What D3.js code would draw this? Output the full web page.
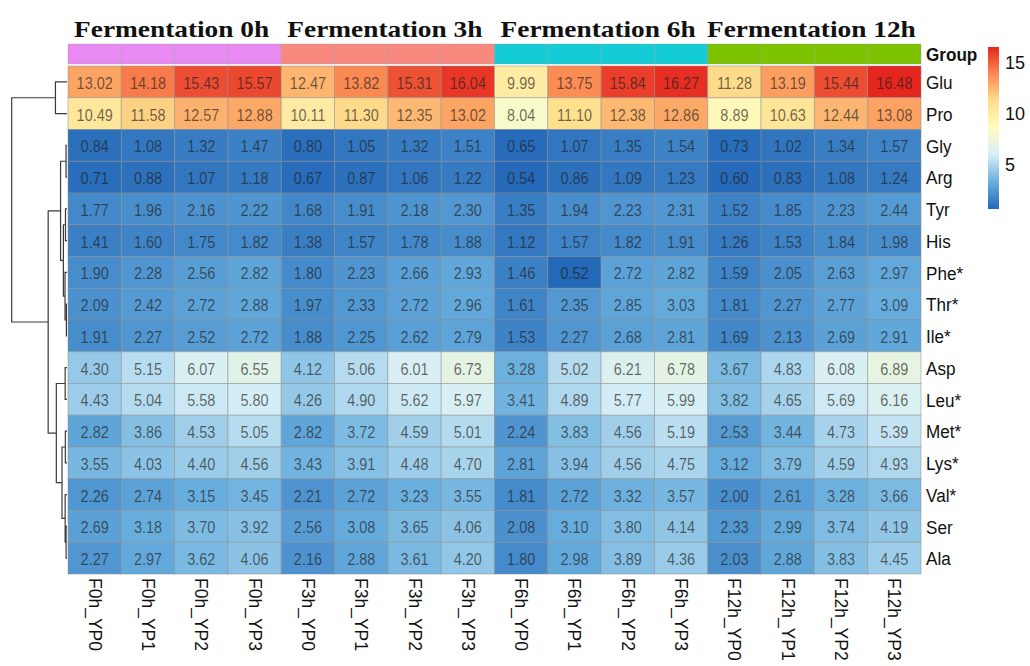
<!DOCTYPE html>
<html>
<head>
<meta charset="utf-8">
<script src="https://cdn.jsdelivr.net/npm/d3@7/dist/d3.min.js"></script>
<style>
  html, body { margin: 0; padding: 0; background: #fff; }
  svg { display: block; }
</style>
</head>
<body>
<svg id="chart" width="1030" height="666"></svg>
<script>
// Free amino acid content per sample (rows = amino acids, columns = samples)
const samples = [
  "F0h_YP0", "F0h_YP1", "F0h_YP2", "F0h_YP3",
  "F3h_YP0", "F3h_YP1", "F3h_YP2", "F3h_YP3",
  "F6h_YP0", "F6h_YP1", "F6h_YP2", "F6h_YP3",
  "F12h_YP0", "F12h_YP1", "F12h_YP2", "F12h_YP3"
];
const groupTitles = ["Fermentation 0h", "Fermentation 3h", "Fermentation 6h", "Fermentation 12h"];
const sampleGroup = [0, 0, 0, 0, 1, 1, 1, 1, 2, 2, 2, 2, 3, 3, 3, 3];
const aminoAcids = ["Glu", "Pro", "Gly", "Arg", "Tyr", "His", "Phe*", "Thr*", "Ile*",
                    "Asp", "Leu*", "Met*", "Lys*", "Val*", "Ser", "Ala"];

const glu = [13.02, 14.18, 15.43, 15.57, 12.47, 13.82, 15.31, 16.04, 9.99, 13.75, 15.84, 16.27, 11.28, 13.19, 15.44, 16.48];
const pro = [10.49, 11.58, 12.57, 12.88, 10.11, 11.30, 12.35, 13.02, 8.04, 11.10, 12.38, 12.86, 8.89, 10.63, 12.44, 13.08];
const gly = [0.84, 1.08, 1.32, 1.47, 0.80, 1.05, 1.32, 1.51, 0.65, 1.07, 1.35, 1.54, 0.73, 1.02, 1.34, 1.57];
const arg = [0.71, 0.88, 1.07, 1.18, 0.67, 0.87, 1.06, 1.22, 0.54, 0.86, 1.09, 1.23, 0.60, 0.83, 1.08, 1.24];
const tyr = [1.77, 1.96, 2.16, 2.22, 1.68, 1.91, 2.18, 2.30, 1.35, 1.94, 2.23, 2.31, 1.52, 1.85, 2.23, 2.44];
const his = [1.41, 1.60, 1.75, 1.82, 1.38, 1.57, 1.78, 1.88, 1.12, 1.57, 1.82, 1.91, 1.26, 1.53, 1.84, 1.98];
const phe = [1.90, 2.28, 2.56, 2.82, 1.80, 2.23, 2.66, 2.93, 1.46, 0.52, 2.72, 2.82, 1.59, 2.05, 2.63, 2.97];
const thr = [2.09, 2.42, 2.72, 2.88, 1.97, 2.33, 2.72, 2.96, 1.61, 2.35, 2.85, 3.03, 1.81, 2.27, 2.77, 3.09];
const ile = [1.91, 2.27, 2.52, 2.72, 1.88, 2.25, 2.62, 2.79, 1.53, 2.27, 2.68, 2.81, 1.69, 2.13, 2.69, 2.91];
const asp = [4.30, 5.15, 6.07, 6.55, 4.12, 5.06, 6.01, 6.73, 3.28, 5.02, 6.21, 6.78, 3.67, 4.83, 6.08, 6.89];
const leu = [4.43, 5.04, 5.58, 5.80, 4.26, 4.90, 5.62, 5.97, 3.41, 4.89, 5.77, 5.99, 3.82, 4.65, 5.69, 6.16];
const met = [2.82, 3.86, 4.53, 5.05, 2.82, 3.72, 4.59, 5.01, 2.24, 3.83, 4.56, 5.19, 2.53, 3.44, 4.73, 5.39];
const lys = [3.55, 4.03, 4.40, 4.56, 3.43, 3.91, 4.48, 4.70, 2.81, 3.94, 4.56, 4.75, 3.12, 3.79, 4.59, 4.93];
const val = [2.26, 2.74, 3.15, 3.45, 2.21, 2.72, 3.23, 3.55, 1.81, 2.72, 3.32, 3.57, 2.00, 2.61, 3.28, 3.66];
const ser = [2.69, 3.18, 3.70, 3.92, 2.56, 3.08, 3.65, 4.06, 2.08, 3.10, 3.80, 4.14, 2.33, 2.99, 3.74, 4.19];
const ala = [2.27, 2.97, 3.62, 4.06, 2.16, 2.88, 3.61, 4.20, 1.80, 2.98, 3.89, 4.36, 2.03, 2.88, 3.83, 4.45];

const values = [glu, pro, gly, arg, tyr, his, phe, thr, ile, asp, leu, met, lys, val, ser, ala];

const legendTicks = [5, 10, 15];
const groupColors = ["#E98AF2", "#F9887F", "#14CCD6", "#7CC400"];
const paletteStops = ["#2468B8", "#68AEDD", "#D6EEF6", "#FFFCC0", "#FEDF8E", "#FB8A52", "#E4261E"];

// ---- layout ----
const svg = d3.select("#chart");
const hmLeft = 68, hmRight = 921, hmTop = 66, hmBottom = 574;
const annTop = 44, annBottom = 64;
const sansFont = "'Liberation Sans', Arial, sans-serif";

const x = d3.scaleBand().domain(samples).range([hmLeft, hmRight]);
const y = d3.scaleBand().domain(aminoAcids).range([hmTop, hmBottom]);

const allVals = values.flat();
const vMin = d3.min(allVals), vMax = d3.max(allVals);
const color = d3.scaleLinear()
  .domain(paletteStops.map((_, i) => vMin + i * (vMax - vMin) / (paletteStops.length - 1)))
  .range(paletteStops)
  .interpolate(d3.interpolateRgb);

svg.append("rect").attr("width", 1030).attr("height", 666).attr("fill", "#fff");

// ---- group titles ----
const titleG = svg.append("g");
groupTitles.forEach((t, gi) => {
  const cols = samples.filter((s, i) => sampleGroup[i] === gi);
  const cx = (x(cols[0]) + x(cols[cols.length - 1]) + x.bandwidth()) / 2 - 3;
  titleG.append("text")
    .attr("transform", `translate(${cx},37) scale(1.14,1)`)
    .attr("text-anchor", "middle")
    .attr("font-family", "'Liberation Serif', 'Times New Roman', serif")
    .attr("font-weight", "bold")
    .attr("font-size", 24)
    .attr("fill", "#111")
    .text(t);
});

// ---- annotation bar ----
svg.append("g").selectAll("rect")
  .data(samples)
  .join("rect")
  .attr("x", d => x(d))
  .attr("y", annTop)
  .attr("width", x.bandwidth())
  .attr("height", annBottom - annTop)
  .attr("fill", (d, i) => groupColors[sampleGroup[i]])
  .attr("stroke", "#9a9a9a")
  .attr("stroke-opacity", 0.45)
  .attr("stroke-width", 0.8);

// ---- heatmap cells ----
const cells = [];
values.forEach((row, r) => row.forEach((v, c) => cells.push({ r, c, v })));

const cellG = svg.append("g");
cellG.selectAll("rect")
  .data(cells)
  .join("rect")
  .attr("x", d => x(samples[d.c]))
  .attr("y", d => y(aminoAcids[d.r]))
  .attr("width", x.bandwidth())
  .attr("height", y.bandwidth())
  .attr("fill", d => color(d.v))
  .attr("stroke", "#8c8c8c")
  .attr("stroke-opacity", 0.55)
  .attr("stroke-width", 0.9);

cellG.selectAll("text")
  .data(cells)
  .join("text")
  .attr("transform", d => `translate(${x(samples[d.c]) + x.bandwidth() / 2},${y(aminoAcids[d.r]) + y.bandwidth() / 2 + 1}) scale(0.85,1)`)
  .attr("text-anchor", "middle")
  .attr("dominant-baseline", "central")
  .attr("font-family", sansFont)
  .attr("font-size", 17)
  .attr("fill", "#1e1e1e")
  .attr("fill-opacity", 0.66)
  .text(d => d.v.toFixed(2));

// ---- row labels ----
svg.append("g").selectAll("text")
  .data(aminoAcids)
  .join("text")
  .attr("transform", d => `translate(926,${y(d) + y.bandwidth() / 2 + 1}) scale(0.9,1)`)
  .attr("dominant-baseline", "central")
  .attr("font-family", sansFont)
  .attr("font-size", 19)
  .attr("fill", "#111")
  .text(d => d);

svg.append("text")
  .attr("transform", `translate(926,${(annTop + annBottom) / 2 + 1}) scale(0.9,1)`)
  .attr("dominant-baseline", "central")
  .attr("font-family", sansFont)
  .attr("font-weight", "bold")
  .attr("font-size", 19)
  .attr("fill", "#111")
  .text("Group");

// ---- column labels ----
svg.append("g").selectAll("text")
  .data(samples)
  .join("text")
  .attr("transform", d => `translate(${x(d) + x.bandwidth() / 2},${hmBottom + 4}) rotate(90)`)
  .attr("dominant-baseline", "central")
  .attr("font-family", sansFont)
  .attr("font-size", 17.5)
  .attr("fill", "#111")
  .text(d => d);

// ---- row dendrogram: complete linkage on Euclidean distances ----
function euclid(a, b) {
  return Math.sqrt(d3.sum(a, (v, k) => (v - b[k]) ** 2));
}
function hclustComplete(mat) {
  const D = mat.map(a => mat.map(b => euclid(a, b)));
  let clusters = mat.map((_, i) => ({ leaf: i, members: [i], height: 0 }));
  while (clusters.length > 1) {
    let best = null;
    for (let i = 0; i < clusters.length; i++) {
      for (let j = i + 1; j < clusters.length; j++) {
        const d = d3.max(clusters[i].members, a => d3.max(clusters[j].members, b => D[a][b]));
        if (!best || d < best.d) best = { i, j, d };
      }
    }
    const A = clusters[best.i], B = clusters[best.j];
    const merged = { children: [A, B], members: A.members.concat(B.members), height: best.d };
    clusters = clusters.filter((_, k) => k !== best.i && k !== best.j);
    clusters.push(merged);
  }
  return clusters[0];
}

const tree = d3.hierarchy(hclustComplete(values), d => d.children);
const dx = d3.scaleLinear().domain([0, tree.data.height]).range([67, 11.7]);
tree.eachAfter(n => {
  n.py = n.children
    ? d3.mean(n.children, c => c.py)
    : y(aminoAcids[n.data.leaf]) + y.bandwidth() / 2;
});

const dendroPath = d3.path();
tree.each(n => {
  if (!n.children) return;
  const xp = dx(n.data.height);
  const [a, b] = n.children;
  dendroPath.moveTo(dx(a.data.height), a.py);
  dendroPath.lineTo(xp, a.py);
  dendroPath.lineTo(xp, b.py);
  dendroPath.lineTo(dx(b.data.height), b.py);
});
svg.append("path")
  .attr("d", dendroPath.toString())
  .attr("fill", "none")
  .attr("stroke", "#3a3a3a")
  .attr("stroke-width", 1.2);

// ---- colour legend ----
const legX = 988, legW = 11;
const ly = d3.scaleLinear().domain([vMin, vMax]).range([209, 47]);
const grad = svg.append("defs").append("linearGradient")
  .attr("id", "legendGrad")
  .attr("x1", 0).attr("y1", 1).attr("x2", 0).attr("y2", 0);
color.domain().forEach((dv, i) => {
  grad.append("stop")
    .attr("offset", (dv - vMin) / (vMax - vMin))
    .attr("stop-color", color.range()[i]);
});
svg.append("rect")
  .attr("x", legX).attr("y", ly(vMax))
  .attr("width", legW).attr("height", ly(vMin) - ly(vMax))
  .attr("fill", "url(#legendGrad)");

svg.append("g").selectAll("text")
  .data(legendTicks)
  .join("text")
  .attr("x", legX + legW + 6)
  .attr("y", d => ly(d) + 1)
  .attr("dominant-baseline", "central")
  .attr("font-family", sansFont)
  .attr("font-size", 18)
  .attr("fill", "#111")
  .text(d => d);
</script>
</body>
</html>
